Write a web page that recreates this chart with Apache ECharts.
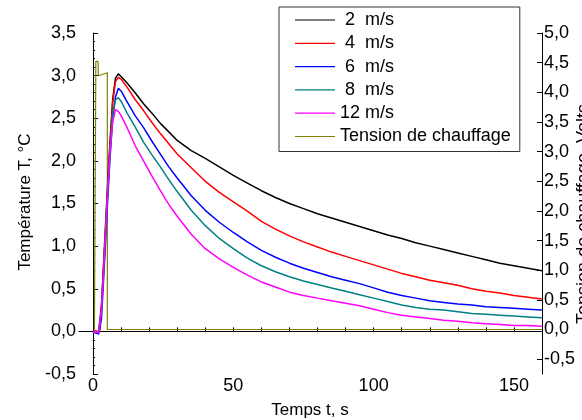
<!DOCTYPE html>
<html>
<head>
<meta charset="utf-8">
<script src="https://cdn.jsdelivr.net/npm/echarts@6/dist/echarts.min.js"></script>
<style>
html,body{margin:0;padding:0;background:#fff;}
#c{width:582px;height:420px;}
</style>
</head>
<body>
<div id="c"></div>
<script>
// Time axis (s)
const times = [0, 1, 2, 2.5, 3, 4, 5, 6, 7, 8, 9, 10, 12, 15, 18, 21, 24, 27, 30, 35, 40, 45, 50, 55, 60, 65, 70, 75, 80, 85, 90, 95, 100, 105, 110, 115, 120, 125, 130, 135, 140, 145, 150, 155, 160];
// Temperature series (°C)
const temp2 = [0.01, -0.01, 0.0, 0.02, 0.3, 0.95, 1.6, 2.2, 2.72, 2.97, 3.02, 2.99, 2.92, 2.80, 2.67, 2.56, 2.44, 2.34, 2.24, 2.12, 2.03, 1.93, 1.83, 1.74, 1.65, 1.57, 1.50, 1.44, 1.38, 1.33, 1.28, 1.23, 1.18, 1.13, 1.09, 1.04, 1.00, 0.96, 0.92, 0.88, 0.84, 0.80, 0.77, 0.74, 0.71];
const temp4 = [0.0, 0.01, -0.01, 0.02, 0.28, 0.9, 1.52, 2.15, 2.68, 2.93, 2.98, 2.96, 2.87, 2.72, 2.59, 2.45, 2.32, 2.20, 2.08, 1.92, 1.76, 1.63, 1.52, 1.41, 1.29, 1.20, 1.12, 1.05, 0.99, 0.93, 0.88, 0.83, 0.78, 0.73, 0.68, 0.64, 0.60, 0.57, 0.54, 0.50, 0.47, 0.45, 0.42, 0.40, 0.38];
const temp6 = [-0.01, -0.02, -0.03, -0.02, 0.15, 0.75, 1.4, 2.0, 2.5, 2.75, 2.85, 2.82, 2.70, 2.53, 2.39, 2.23, 2.08, 1.93, 1.80, 1.59, 1.42, 1.28, 1.16, 1.05, 0.95, 0.87, 0.80, 0.74, 0.69, 0.64, 0.60, 0.56, 0.51, 0.46, 0.42, 0.39, 0.36, 0.34, 0.32, 0.31, 0.29, 0.28, 0.27, 0.26, 0.25];
const temp8 = [0.0, -0.01, -0.01, 0.0, 0.25, 0.85, 1.5, 2.1, 2.55, 2.72, 2.74, 2.70, 2.57, 2.40, 2.22, 2.07, 1.93, 1.78, 1.64, 1.42, 1.24, 1.09, 0.97, 0.86, 0.77, 0.70, 0.64, 0.59, 0.55, 0.51, 0.47, 0.43, 0.39, 0.35, 0.31, 0.28, 0.26, 0.25, 0.23, 0.21, 0.20, 0.19, 0.18, 0.17, 0.16];
const temp12 = [-0.02, 0.0, -0.02, 0.0, 0.25, 0.85, 1.5, 2.08, 2.46, 2.6, 2.58, 2.53, 2.40, 2.18, 2.0, 1.82, 1.65, 1.49, 1.35, 1.14, 0.97, 0.85, 0.75, 0.66, 0.58, 0.52, 0.46, 0.42, 0.39, 0.36, 0.33, 0.30, 0.26, 0.22, 0.19, 0.17, 0.15, 0.13, 0.12, 0.10, 0.09, 0.08, 0.07, 0.07, 0.06];
// Heating voltage (V)
const voltTimes = [0.5, 1.0, 1.0, 1.8, 1.9, 5.1, 5.1, 160];
const voltValues = [0, 0, 4.52, 4.52, 4.28, 4.33, 0, 0];

const seriesNames = [' 2  m/s', ' 4  m/s', ' 6  m/s', ' 8  m/s', '12 m/s', 'Tension de chauffage'];
const seriesColors = ['#000000', '#ff0000', '#0000ff', '#008080', '#ff00ff', '#808000'];
const tempSeries = [temp2, temp4, temp6, temp8, temp12];

const xLabels = [0, 50, 100, 150];
const xTicks = [0, 10, 20, 30, 40, 50, 60, 70, 80, 90, 100, 110, 120, 130, 140, 150];
const rightLabels = [-0.5, 0, 0.5, 1, 1.5, 2, 2.5, 3, 3.5, 4, 4.5, 5];

const FONT = "'Liberation Sans', Arial, sans-serif";
const comma = v => v.toFixed(1).replace('.', ',');

const pair = (ts, vs) => ts.map((t, i) => [t, vs[i]]);

const series = tempSeries.map((vals, i) => ({
  name: seriesNames[i],
  type: 'line',
  yAxisIndex: 0,
  data: pair(times, vals),
  symbol: 'none',
  showSymbol: false,
  lineStyle: { color: seriesColors[i], width: 1.5 },
  itemStyle: { color: seriesColors[i] },
  z: 3 + i,
  animation: false
}));
series.unshift({
  name: seriesNames[5],
  type: 'line',
  yAxisIndex: 1,
  data: pair(voltTimes, voltValues),
  symbol: 'none',
  showSymbol: false,
  lineStyle: { color: seriesColors[5], width: 1.2 },
  itemStyle: { color: seriesColors[5] },
  z: 2,
  animation: false
});

const chart = echarts.init(document.getElementById('c'), null, { renderer: 'canvas' });
chart.setOption({
  backgroundColor: '#fff',
  animation: false,
  grid: { left: 79, right: 40, top: 33, bottom: 46, containLabel: false },
  legend: {
    data: seriesNames,
    orient: 'vertical',
    left: 279,
    top: 7,
    padding: [4, 9, 6, 16],
    icon: 'rect',
    itemWidth: 40,
    itemHeight: 1.2,
    itemGap: 5.3,
    lineStyle: { width: 1.2 },
    backgroundColor: '#fff',
    borderColor: '#333',
    borderWidth: 1,
    borderRadius: 0,
    textStyle: { fontFamily: FONT, fontSize: 18, color: '#000', lineHeight: 18 },
    z: 20
  },
  xAxis: {
    type: 'value',
    min: -5,
    max: 160,
    splitLine: { show: false },
    axisLine: { lineStyle: { color: '#000', width: 1 } },
    axisTick: { show: true, inside: true, length: 4, customValues: xTicks, lineStyle: { color: '#000' } },
    axisLabel: { customValues: xLabels, color: '#000', fontFamily: FONT, fontSize: 18, margin: 3,
      formatter: v => String(v) }
  },
  yAxis: [
    {
      type: 'value',
      position: 'left',
      min: -0.5,
      max: 3.5,
      interval: 0.5,
      splitLine: { show: false },
      axisLine: { show: true, lineStyle: { color: '#000', width: 1 } },
      axisTick: { show: true, inside: true, length: 5, lineStyle: { color: '#000' } },
      minorTick: { show: true, splitNumber: 5, length: 2, lineStyle: { color: '#000' } },
      axisLabel: { color: '#000', fontFamily: FONT, fontSize: 18, margin: 3, formatter: comma }
    },
    {
      type: 'value',
      position: 'right',
      min: -0.75,
      max: 5,
      splitLine: { show: false },
      axisLine: { show: true, lineStyle: { color: '#000', width: 1 } },
      axisTick: { show: true, inside: true, length: 5, customValues: rightLabels, lineStyle: { color: '#000' } },
      axisLabel: { customValues: rightLabels, color: '#000', fontFamily: FONT, fontSize: 18, margin: 2, formatter: comma }
    }
  ],
  graphic: [
    { type: 'text', x: 25, y: 202, rotation: Math.PI / 2,
      style: { text: 'Température T, °C', fontFamily: FONT, fontSize: 17, fill: '#000', align: 'center', verticalAlign: 'middle' } },
    { type: 'text', x: 310, y: 410,
      style: { text: 'Temps t, s', fontFamily: FONT, fontSize: 17, fill: '#000', align: 'center', verticalAlign: 'middle' } },
    { type: 'text', x: 584, y: 214, rotation: Math.PI / 2,
      style: { text: 'Tension de chauffage, Volts', fontFamily: FONT, fontSize: 18, fill: '#000', align: 'center', verticalAlign: 'middle' } }
  ],
  series: series
});
</script>
</body>
</html>
